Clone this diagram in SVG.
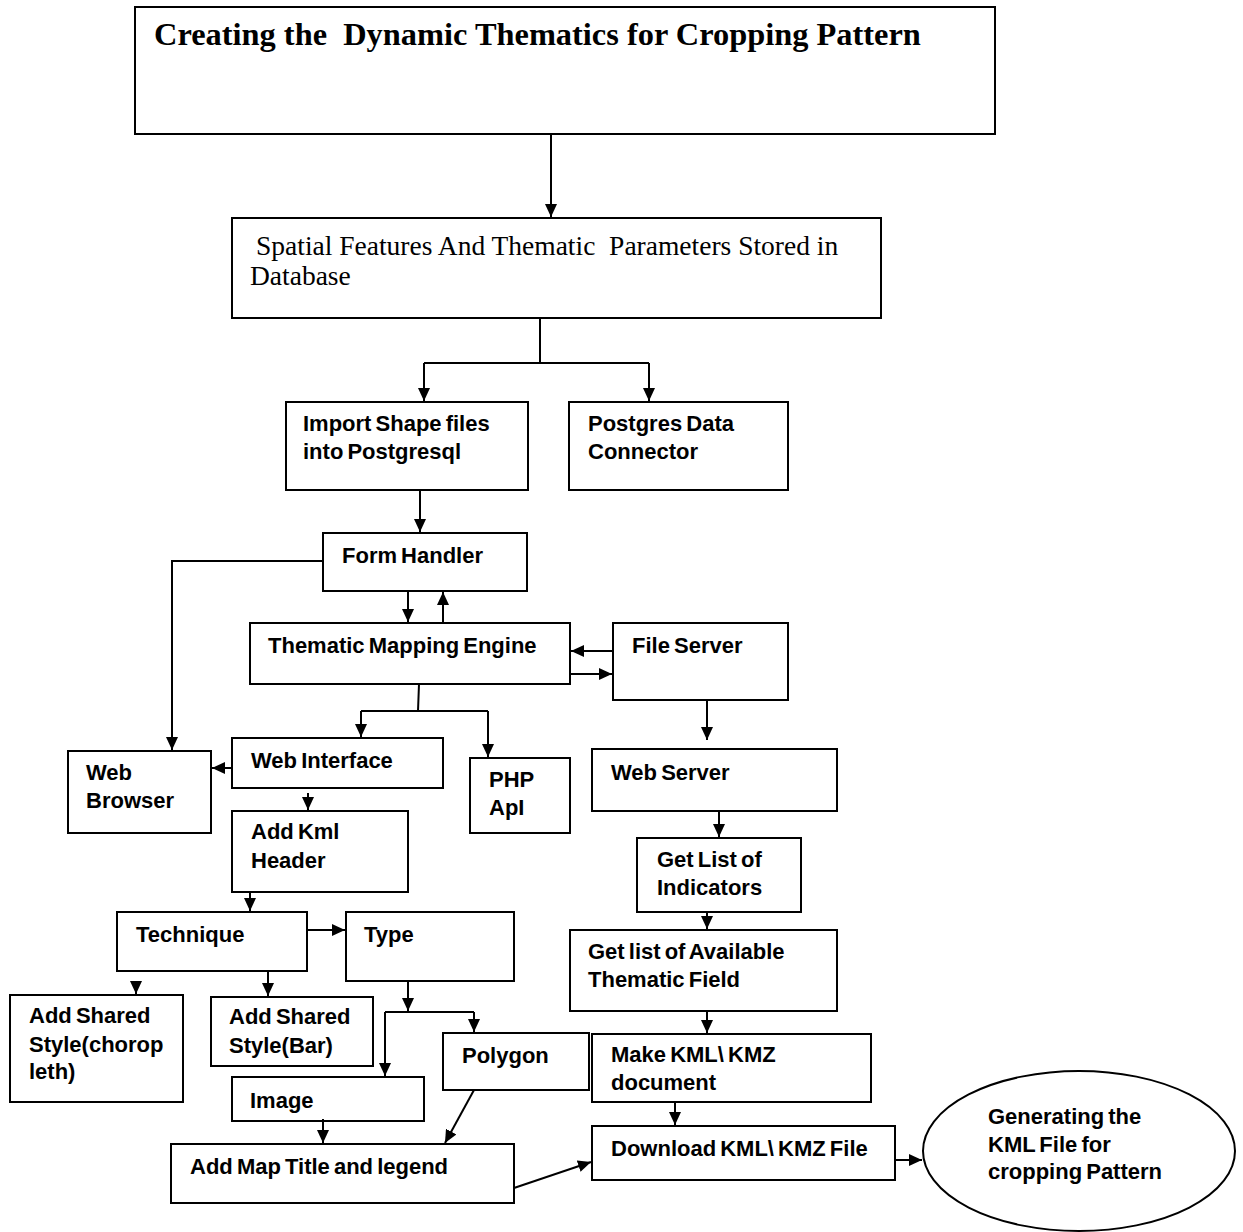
<svg xmlns="http://www.w3.org/2000/svg" width="1243" height="1232" viewBox="0 0 1243 1232">
<style>
.box{fill:#fff;stroke:#000;stroke-width:2}
.t{font-family:"Liberation Sans",Arial,sans-serif;font-weight:bold;font-size:22px;word-spacing:-2px;fill:#000}
.s{font-family:"Liberation Serif","Times New Roman",serif;fill:#000}
.c path,.c line{fill:none;stroke:#000;stroke-width:2}
</style>
<defs>
<marker id="a" markerUnits="userSpaceOnUse" markerWidth="13" markerHeight="12" refX="13" refY="6" orient="auto">
<path d="M0,0 L13,6 L0,12 z" fill="#000"/>
</marker>
</defs>
<rect width="1243" height="1232" fill="#fff"/>

<g id="title"><rect class="box" x="135" y="7" width="860" height="127"/><text class="s" x="154" y="45" font-size="32.4" font-weight="bold" xml:space="preserve">Creating the  Dynamic Thematics for Cropping Pattern</text></g>
<g id="spatial"><rect class="box" x="232" y="218" width="649" height="100"/><text class="s" font-size="27.5" xml:space="preserve"><tspan x="256" y="255">Spatial Features And Thematic  Parameters Stored in</tspan><tspan x="250" y="285">Database</tspan></text></g>
<g id="import"><rect class="box" x="286" y="402" width="242" height="88"/><text class="t"><tspan x="303" y="431">Import Shape files</tspan><tspan x="303" y="459">into Postgresql</tspan></text></g>
<g id="postgres"><rect class="box" x="569" y="402" width="219" height="88"/><text class="t"><tspan x="588" y="431">Postgres Data</tspan><tspan x="588" y="459">Connector</tspan></text></g>
<g id="formHandler"><rect class="box" x="323" y="533" width="204" height="58"/><text class="t" x="342" y="563">Form Handler</text></g>
<g id="tme"><rect class="box" x="250" y="623" width="320" height="61"/><text class="t" x="268" y="653">Thematic Mapping Engine</text></g>
<g id="fileServer"><rect class="box" x="613" y="623" width="175" height="77"/><text class="t" x="632" y="653">File Server</text></g>
<g id="webServer"><rect class="box" x="592" y="749" width="245" height="62"/><text class="t" x="611" y="780">Web Server</text></g>
<g id="indicators"><rect class="box" x="637" y="838" width="164" height="74"/><text class="t"><tspan x="657" y="867">Get List of</tspan><tspan x="657" y="895">Indicators</tspan></text></g>
<g id="available"><rect class="box" x="570" y="930" width="267" height="81"/><text class="t"><tspan x="588" y="959">Get list of Available</tspan><tspan x="588" y="987">Thematic Field</tspan></text></g>
<g id="makeKml"><rect class="box" x="592" y="1034" width="279" height="68"/><text class="t"><tspan x="611" y="1062">Make KML\ KMZ</tspan><tspan x="611" y="1090">document</tspan></text></g>
<g id="download"><rect class="box" x="592" y="1126" width="303" height="54"/><text class="t" x="611" y="1156">Download KML\ KMZ File</text></g>
<g id="generating"><ellipse class="box" cx="1079" cy="1151" rx="156" ry="80"/><text class="t"><tspan x="988" y="1124">Generating the</tspan><tspan x="988" y="1152">KML File for</tspan><tspan x="988" y="1179">cropping Pattern</tspan></text></g>
<g id="webBrowser"><rect class="box" x="68" y="751" width="143" height="82"/><text class="t"><tspan x="86" y="780">Web</tspan><tspan x="86" y="808">Browser</tspan></text></g>
<g id="webInterface"><rect class="box" x="232" y="738" width="211" height="50"/><text class="t" x="251" y="768">Web Interface</text></g>
<g id="php"><rect class="box" x="470" y="758" width="100" height="75"/><text class="t"><tspan x="489" y="787">PHP</tspan><tspan x="489" y="815">ApI</tspan></text></g>
<g id="addKml"><rect class="box" x="232" y="811" width="176" height="81"/><text class="t"><tspan x="251" y="839">Add Kml</tspan><tspan x="251" y="868">Header</tspan></text></g>
<g id="technique"><rect class="box" x="117" y="912" width="190" height="59"/><text class="t" x="136" y="942">Technique</text></g>
<g id="type"><rect class="box" x="346" y="912" width="168" height="69"/><text class="t" x="364" y="942">Type</text></g>
<g id="choropleth"><rect class="box" x="10" y="995" width="173" height="107"/><text class="t"><tspan x="29" y="1023">Add Shared</tspan><tspan x="29" y="1052">Style(chorop</tspan><tspan x="29" y="1079">leth)</tspan></text></g>
<g id="bar"><rect class="box" x="211" y="997" width="162" height="69"/><text class="t"><tspan x="229" y="1024">Add Shared</tspan><tspan x="229" y="1053">Style(Bar)</tspan></text></g>
<g id="polygon"><rect class="box" x="443" y="1033" width="146" height="57"/><text class="t" x="462" y="1063">Polygon</text></g>
<g id="image"><rect class="box" x="232" y="1077" width="192" height="44"/><text class="t" x="250" y="1108">Image</text></g>
<g id="mapTitle"><rect class="box" x="171" y="1144" width="343" height="59"/><text class="t" x="190" y="1174">Add Map Title and legend</text></g>

<g id="connectors" class="c">
<path d="M551,134 V217" marker-end="url(#a)"/>
<path d="M540,318 V363 M424,363 H649"/>
<path d="M424,363 V401" marker-end="url(#a)"/>
<path d="M649,363 V401" marker-end="url(#a)"/>
<path d="M420,490 V532" marker-end="url(#a)"/>
<path d="M323,561 H172 V750" marker-end="url(#a)"/>
<path d="M408,591 V622" marker-end="url(#a)"/>
<path d="M443,622 V592" marker-end="url(#a)"/>
<path d="M613,651 H571" marker-end="url(#a)"/>
<path d="M570,674 H612" marker-end="url(#a)"/>
<path d="M419,684 L418,711 M361,711 H488"/>
<path d="M361,711 V737" marker-end="url(#a)"/>
<path d="M488,711 V757" marker-end="url(#a)"/>
<path d="M232,768 H212" marker-end="url(#a)"/>
<path d="M308,793 V810" marker-end="url(#a)"/>
<path d="M250,892 V911" marker-end="url(#a)"/>
<path d="M307,930 H345" marker-end="url(#a)"/>
<path d="M136,983 V994" marker-end="url(#a)"/>
<path d="M268,971 V996" marker-end="url(#a)"/>
<path d="M408,981 V1011" marker-end="url(#a)"/>
<path d="M385,1012 H474"/>
<path d="M385,1012 V1076" marker-end="url(#a)"/>
<path d="M474,1012 V1032" marker-end="url(#a)"/>
<path d="M323,1119 V1143" marker-end="url(#a)"/>
<path d="M474,1090 L445,1143" marker-end="url(#a)"/>
<path d="M514,1188 L591,1162" marker-end="url(#a)"/>
<path d="M707,700 V740" marker-end="url(#a)"/>
<path d="M719,811 V837" marker-end="url(#a)"/>
<path d="M707,912 V929" marker-end="url(#a)"/>
<path d="M707,1011 V1033" marker-end="url(#a)"/>
<path d="M675,1102 V1125" marker-end="url(#a)"/>
<path d="M895,1160 H922" marker-end="url(#a)"/>
</g>
</svg>
